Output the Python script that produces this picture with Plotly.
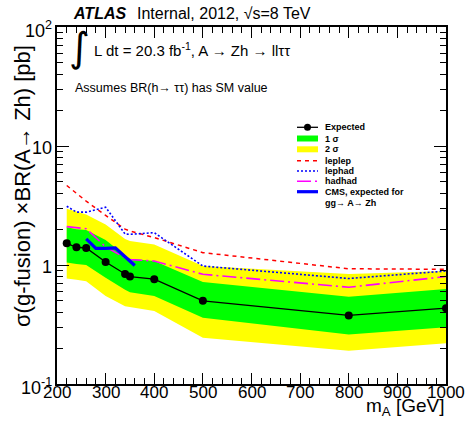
import math
import plotly.graph_objects as go

# ---------------- data ----------------
mass = [220, 240, 260, 300, 340, 350, 400, 500, 800, 1000]
expected = [1.52, 1.41, 1.39, 1.06, 0.84, 0.80, 0.76, 0.50, 0.377, 0.434]
one_sigma_up = [2.08, 2.00, 1.97, 1.62, 1.20, 1.13, 1.08, 0.72, 0.54, 0.63]
one_sigma_dn = [1.05, 1.02, 1.00, 0.78, 0.62, 0.59, 0.55, 0.36, 0.26, 0.30]
two_sigma_up = [2.97, 2.80, 2.66, 2.19, 1.65, 1.59, 1.49, 0.98, 0.84, 0.89]
two_sigma_dn = [0.77, 0.75, 0.73, 0.55, 0.45, 0.44, 0.41, 0.245, 0.19, 0.22]
leplep = [4.66, 4.00, 3.44, 2.61, 2.00, 1.93, 1.70, 1.27, 0.93, 0.92]
lephad = [3.12, 2.78, 2.78, 3.06, 1.82, 1.81, 1.87, 0.98, 0.77, 0.89]
hadhad = [2.10, 2.05, 2.02, 1.42, 1.15, 1.11, 1.08, 0.835, 0.65, 0.80]
cms_mass = [260, 280, 300, 320, 360]
cms_exp = [1.66, 1.38, 1.38, 1.39, 0.99]

x_ticks = [200, 300, 400, 500, 600, 700, 800, 900, 1000]
x_ticktext = ["200", "300", "400", "500", "600", "700", "800", "900", "1000"]
y_ticks = [0.1, 1, 10, 100]
y_ticktext = ["10<sup>-1</sup>", "1", "10", "10<sup>2</sup>"]
y_minor = [m * d for d in (0.1, 1, 10) for m in range(2, 10)]

legend_labels = ["Expected", "1 σ", "2 σ", "leplep", "lephad", "hadhad",
                 "CMS, expected for", "gg→ A→ Zh"]

FONT = "Liberation Sans, Arial, sans-serif"
W, H = 470, 433
L, R, T, B = 57, 446, 27, 384


def px(x):
    return (x - L) / (R - L)


def py(y):
    return (B - y) / (B - T)


fig = go.Figure()

# bands
fig.add_trace(go.Scatter(x=mass + mass[::-1], y=two_sigma_up + two_sigma_dn[::-1],
                         fill="toself", fillcolor="#FFFF00", line=dict(width=0),
                         mode="lines", showlegend=False, hoverinfo="skip"))
fig.add_trace(go.Scatter(x=mass + mass[::-1], y=one_sigma_up + one_sigma_dn[::-1],
                         fill="toself", fillcolor="#00FF00", line=dict(width=0),
                         mode="lines", showlegend=False, hoverinfo="skip"))
# channel lines
fig.add_trace(go.Scatter(x=mass, y=leplep, mode="lines",
                         line=dict(color="#FF0000", width=1.5, dash="4px,4px"),
                         showlegend=False))
fig.add_trace(go.Scatter(x=mass, y=lephad, mode="lines",
                         line=dict(color="#0000FF", width=1.6, dash="2px,2px"),
                         showlegend=False))
fig.add_trace(go.Scatter(x=mass, y=hadhad, mode="lines",
                         line=dict(color="#FF00FF", width=1.6, dash="14px,4px,2px,4px"),
                         showlegend=False))
fig.add_trace(go.Scatter(x=cms_mass, y=cms_exp, mode="lines",
                         line=dict(color="#0000FF", width=3.2),
                         showlegend=False))
fig.add_trace(go.Scatter(x=mass, y=expected, mode="lines+markers",
                         line=dict(color="black", width=1.3),
                         marker=dict(color="black", size=8, symbol="circle"),
                         showlegend=False))

# ---------------- manual legend ----------------
shapes = []
lx0, lx1 = 297, 318
rows = [127.3, 138.5, 149.3, 160.7, 171.0, 181.2, 191.7, 203.3]
shapes.append(dict(type="line", xref="paper", yref="paper", x0=px(lx0), x1=px(lx1),
                   y0=py(rows[0]), y1=py(rows[0]), line=dict(color="black", width=1.3)))
shapes.append(dict(type="circle", xref="paper", yref="paper", x0=px(304), x1=px(311),
                   y0=py(rows[0] + 3.5), y1=py(rows[0] - 3.5),
                   fillcolor="black", line=dict(color="black", width=0)))
shapes.append(dict(type="rect", xref="paper", yref="paper", x0=px(lx0), x1=px(lx1),
                   y0=py(rows[1] + 3), y1=py(rows[1] - 3), fillcolor="#00FF00",
                   line=dict(width=0)))
shapes.append(dict(type="rect", xref="paper", yref="paper", x0=px(lx0), x1=px(lx1),
                   y0=py(rows[2] + 3), y1=py(rows[2] - 3), fillcolor="#FFFF00",
                   line=dict(width=0)))
for r, col, dash, w in [(rows[3], "#FF0000", "4px,4px", 1.5),
                        (rows[4], "#0000FF", "2px,2px", 1.6),
                        (rows[5], "#FF00FF", "14px,4px,2px,4px", 1.6),
                        (rows[6], "#0000FF", "solid", 3.2)]:
    shapes.append(dict(type="line", xref="paper", yref="paper", x0=px(lx0), x1=px(lx1),
                       y0=py(r), y1=py(r), line=dict(color=col, width=w, dash=dash)))

annotations = []
for lab, r in zip(legend_labels, rows):
    annotations.append(dict(text="<b>%s</b>" % lab, x=px(323), y=py(r), xref="paper",
                            yref="paper", xanchor="left", yanchor="middle",
                            showarrow=False, font=dict(family=FONT, size=9, color="black")))

# tick labels (ROOT-style placement)
for v, t in zip(x_ticks, x_ticktext):
    annotations.append(dict(text=t, x=v, xref="x", y=py(392), yref="paper",
                            xanchor="center", yanchor="middle", showarrow=False,
                            font=dict(family=FONT, size=17, color="black")))
for v, t in zip(y_ticks, y_ticktext):
    annotations.append(dict(text=t, x=px(54), xref="paper", y=math.log10(v), yref="y",
                            xanchor="right", yanchor="middle", yshift=-2,
                            showarrow=False,
                            font=dict(family=FONT, size=18, color="black")))

annotations += [
    dict(text="<b><i>ATLAS</i></b>", x=px(71), y=py(14), xref="paper", yref="paper",
         xanchor="left", yanchor="middle", showarrow=False,
         font=dict(family=FONT, size=16, color="black")),
    dict(text="Internal, 2012, √s=8 TeV", x=px(135), y=py(14), xref="paper", yref="paper",
         xanchor="left", yanchor="middle", showarrow=False,
         font=dict(family=FONT, size=16, color="black")),
    dict(text="∫", x=px(67), y=py(47), xref="paper", yref="paper",
         xanchor="left", yanchor="middle", showarrow=False,
         font=dict(family="DejaVu Sans", size=40, color="black")),
    dict(text="L dt = 20.3 fb<sup>-1</sup>, A → Zh → llττ", x=px(92), y=py(49),
         xref="paper", yref="paper", xanchor="left", yanchor="middle", showarrow=False,
         font=dict(family=FONT, size=15, color="black")),
    dict(text="Assumes BR(h→ ττ) has SM value", x=px(73), y=py(88), xref="paper",
         yref="paper", xanchor="left", yanchor="middle", showarrow=False,
         font=dict(family=FONT, size=12.5, color="black")),
    dict(text="σ(g-fusion) ×BR(A→ Zh) [pb]", x=px(22), y=py(43), xref="paper",
         yref="paper", xanchor="center", yanchor="top", textangle=-90, showarrow=False,
         font=dict(family=FONT, size=22, color="black")),
    dict(text="m<sub>A</sub> [GeV]", x=px(447), y=py(407), xref="paper", yref="paper",
         xanchor="right", yanchor="middle", showarrow=False,
         font=dict(family=FONT, size=19, color="black")),
]

fig.update_layout(
    width=W, height=H, autosize=False,
    margin=dict(l=L, r=W - R, t=T, b=H - B, pad=0),
    paper_bgcolor="white", plot_bgcolor="white",
    showlegend=False,
    shapes=shapes, annotations=annotations,
    font=dict(family=FONT, color="black"),
)
fig.update_xaxes(
    range=[200, 1000], tickvals=x_ticks, showticklabels=False, ticks="inside",
    ticklen=11, tickwidth=1,
    tickcolor="black", showline=True, linewidth=2, linecolor="black", mirror="allticks",
    showgrid=False, zeroline=False, automargin=False,
    minor=dict(dtick=20, ticks="inside", ticklen=6, tickwidth=1, tickcolor="black",
               showgrid=False),
)
fig.update_yaxes(
    type="log", range=[-1, 2], tickvals=y_ticks, showticklabels=False, ticks="inside",
    ticklen=12, tickwidth=1, tickcolor="black", showline=True, linewidth=2,
    linecolor="black", mirror="allticks", showgrid=False, zeroline=False,
    automargin=False,
    minor=dict(tickvals=y_minor, ticks="inside", ticklen=6, tickwidth=1,
               tickcolor="black", showgrid=False),
)

fig.write_html("out.html", config={"displayModeBar": False},
               post_script="document.body.style.margin='0';"
                           "document.body.style.overflow='hidden';")
